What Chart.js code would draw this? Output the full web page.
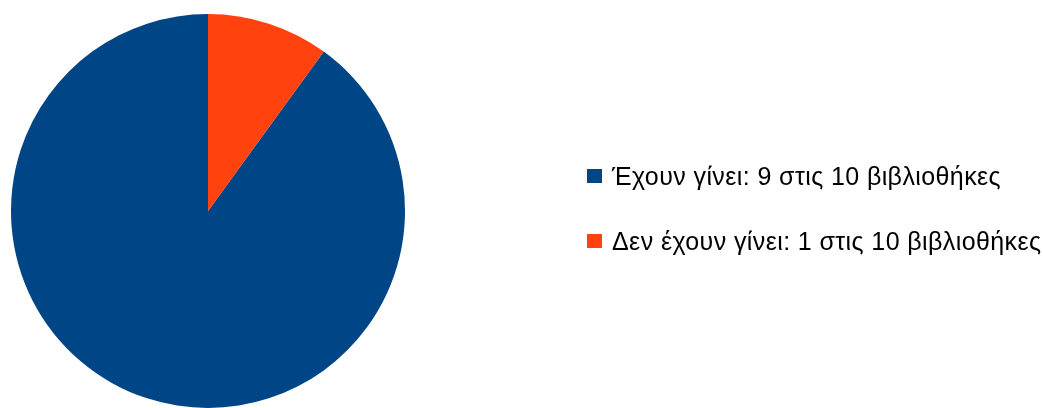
<!DOCTYPE html>
<html>
<head>
<meta charset="utf-8">
<script src="https://cdn.jsdelivr.net/npm/chart.js@4/dist/chart.umd.min.js"></script>
<style>
  html, body { margin: 0; padding: 0; background: #fff; }
  #wrap { position: relative; width: 1043px; height: 408px; overflow: hidden; }
  #legend { position: absolute; left: 587px; top: 161px; font-family: "Liberation Sans", Arial, sans-serif; font-size: 25px; letter-spacing: 0.4px; color: #000; }
  .item { position: relative; height: 30px; line-height: 30px; margin-bottom: 35px; padding-left: 25px; white-space: nowrap; }
  .box { position: absolute; left: 0; top: 8px; width: 15px; height: 14px; }
</style>
</head>
<body>
<div id="wrap">
  <canvas id="myChart" width="1043" height="408"></canvas>
  <div id="legend"></div>
</div>
<script>
var labels = ['Έχουν γίνει: 9 στις 10 βιβλιοθήκες', 'Δεν έχουν γίνει: 1 στις 10 βιβλιοθήκες'];
var values = [9, 1];
var colors = ['#004586', '#ff420e'];

var ctx = document.getElementById('myChart').getContext('2d');

var pieChart = new Chart(ctx, {
	type: 'pie',
	data: {
		labels: labels,
		datasets: [{
			data: values,
			backgroundColor: colors,
			borderWidth: 0
		}]
	},
	options: {
		responsive: false,
		animation: false,
		rotation: 36,
		layout: {
			padding: { left: 11, right: 638, top: 14, bottom: 0 }
		},
		plugins: {
			legend: { display: false },
			tooltip: { enabled: false }
		}
	}
});

// legend built from the same arrays
var legend = document.getElementById('legend');
labels.forEach(function (label, i) {
	var item = document.createElement('div');
	item.className = 'item';
	var box = document.createElement('span');
	box.className = 'box';
	box.style.background = colors[i];
	item.appendChild(box);
	item.appendChild(document.createTextNode(label));
	legend.appendChild(item);
});
</script>
</body>
</html>
